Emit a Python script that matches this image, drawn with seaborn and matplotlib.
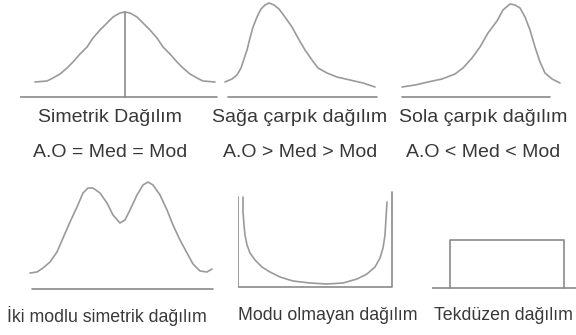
import matplotlib
matplotlib.use("Agg")
import matplotlib.pyplot as plt
import seaborn as sns

# Values: x along each panel, y = height above its baseline
sym_x = [15, 27, 33, 40, 47, 53, 60, 67, 73, 80, 87, 93, 100, 105,
         110, 117, 123, 130, 137, 143, 150, 157, 163, 170, 177, 183, 195]
sym_y = [15, 16, 19, 23, 29, 35, 43, 50, 59, 67, 74, 80, 84, 85,
         84, 80, 74, 67, 59, 50, 43, 35, 29, 23, 19, 16, 15]

right_x = [5, 12, 17, 21, 23, 27, 30, 33, 37, 41, 45, 49, 54, 59, 65, 72,
           78, 85, 92, 98, 107, 117, 130, 143, 155]
right_y = [15, 18, 22, 29, 35, 47, 59, 70, 80, 88, 92, 94, 92, 88, 80, 70,
           59, 47, 37, 29, 24, 20, 17, 14, 10]

left_x = [7, 20, 33, 47, 60, 68, 77, 85, 93, 102, 108, 115, 120, 125, 130,
          135, 140, 145, 150, 157, 165]
left_y = [10, 12, 15, 18, 23, 29, 39, 50, 64, 76, 87, 93, 92, 89, 80,
          67, 50, 35, 24, 18, 14]

bi_x = [10, 17, 23, 30, 37, 43, 50, 57, 63, 68, 73, 80, 87, 93, 100, 105,
        110, 117, 123, 128, 133, 140, 147, 153, 160, 167, 173, 180, 187, 192]
bi_y = [16, 17, 21, 27, 37, 51, 67, 82, 96, 101, 101, 96, 86, 74, 66, 69,
        79, 94, 104, 107, 104, 94, 79, 64, 49, 36, 25, 18, 17, 20]

u_x = [5, 5, 6, 7, 9, 12, 17, 24, 32, 42, 55, 72, 89, 105, 119, 129,
       137, 142, 145, 147, 148, 149]
u_y = [90, 75, 62, 52, 42, 34, 27, 20, 15, 10, 6, 4, 3, 4, 8, 13,
       20, 29, 39, 52, 69, 85]

unif_x = [18, 18, 132, 132]
unif_y = [0, 48, 48, 0]

titles_top = ["Simetrik Dağılım", "Sağa çarpık dağılım", "Sola çarpık dağılım"]
relations = ["A.O = Med = Mod", "A.O > Med > Mod", "A.O < Med < Mod"]
titles_bottom = ["İki modlu simetrik dağılım", "Modu olmayan dağılım", "Tekdüzen dağılım"]

sns.set_theme(style="white")
plt.rcParams["font.family"] = ["Liberation Sans", "DejaVu Sans"]

W, H = 576, 335
fig = plt.figure(figsize=(W / 100, H / 100), dpi=100)

curve_c = "#9a9a9a"
axis_c = "#8a8a8a"
text_c = "#383838"


def panel(x0, base, width, height):
    # axes where one data unit is one pixel, origin at (x0, base)
    pad = 4
    ax = fig.add_axes([x0 / W, (H - base - pad) / H, width / W, (height + 2 * pad) / H])
    ax.set_xlim(0, width)
    ax.set_ylim(-pad, height + pad)
    ax.axis("off")
    return ax


def draw(ax, x, y, color=curve_c):
    sns.lineplot(x=x, y=y, ax=ax, sort=False, estimator=None,
                 color=color, linewidth=1.2)


# top row
ax1 = panel(20, 97, 200, 95)
draw(ax1, sym_x, sym_y)
draw(ax1, [0, 197], [0, 0], axis_c)
draw(ax1, [105, 105], [0, 85], axis_c)

ax2 = panel(220, 97, 170, 97)
draw(ax2, right_x, right_y)
draw(ax2, [8, 157], [0, 0], axis_c)

ax3 = panel(395, 97, 175, 97)
draw(ax3, left_x, left_y)
draw(ax3, [7, 155], [0, 0], axis_c)

# bottom row
ax4 = panel(20, 289, 200, 115)
draw(ax4, bi_x, bi_y)
draw(ax4, [12, 193], [0, 0], axis_c)

ax5 = panel(238, 287, 160, 100)
draw(ax5, u_x, u_y)
draw(ax5, [0, 0, 154, 154], [90, 0, 0, 95], axis_c)

ax6 = panel(432, 288, 144, 60)
draw(ax6, [0, 144], [0, 0], axis_c)
draw(ax6, unif_x, unif_y, axis_c)

for cx, t, r in zip([110, 300, 483], titles_top, relations):
    fig.text(cx / W, 1 - 118 / H, t, ha="center", va="center", fontsize=14, color=text_c)
    fig.text(cx / W, 1 - 153 / H, r, ha="center", va="center", fontsize=14, color=text_c)

for cx, t in zip([107, 328, 503], titles_bottom):
    fig.text(cx / W, 1 - 316 / H, t, ha="center", va="center", fontsize=12.8, color=text_c)

fig.savefig("out.png", dpi=100)
